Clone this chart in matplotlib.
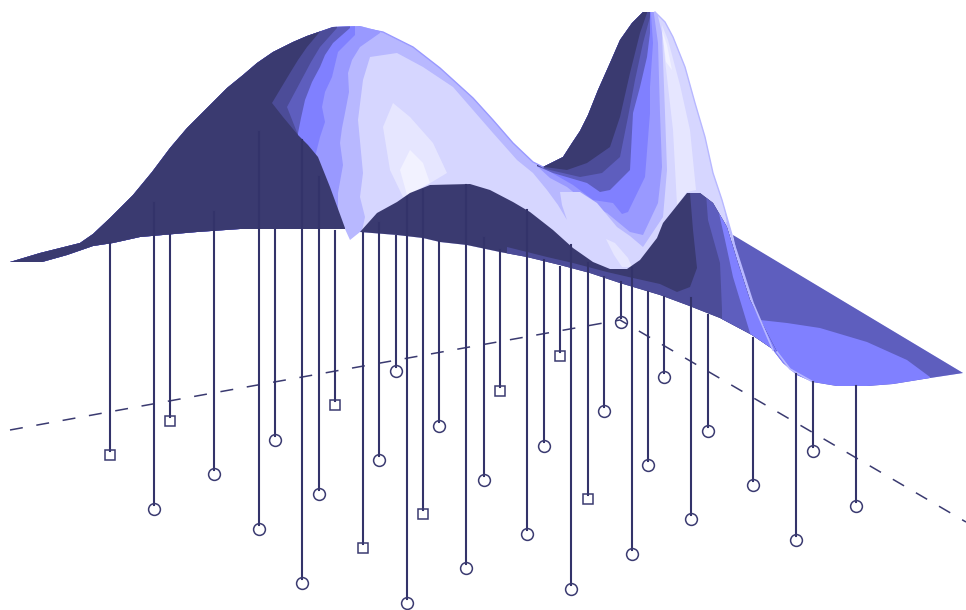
import matplotlib
matplotlib.use('Agg')
import matplotlib.pyplot as plt
from matplotlib.patches import Polygon

# surface outlines (x, y in image pixels)
silhouette = [(10, 262), (40, 253), (80, 243), (93, 234), (110, 218), (133, 195), (152, 172), (170, 148), (187, 128),
              (207, 108), (227, 88), (243, 75), (257, 63), (273, 52), (293, 42), (307, 36), (333, 27), (360, 26),
              (383, 32), (413, 47), (440, 68), (473, 98), (493, 120), (513, 143), (533, 162), (543, 167), (563, 157),
              (572, 143), (580, 131), (588, 115), (598, 90), (610, 63), (620, 40), (632, 23), (643, 12), (655, 12),
              (665, 22), (673, 37), (685, 67), (695, 103), (705, 137), (713, 173), (722, 200), (732, 235),
              (963, 373), (930, 378), (867, 386), (813, 382), (777, 352), (752, 335), (720, 318), (687, 305),
              (660, 295), (620, 283), (590, 273), (560, 265), (527, 257), (500, 252), (467, 245), (440, 242),
              (423, 238), (397, 235), (360, 232), (350, 240), (345, 229), (300, 229), (240, 229), (197, 232),
              (140, 237), (113, 243), (93, 246), (67, 255), (42, 262)]

hump_l5 = [(380, 0), (380, 33), (360, 47), (352, 60), (348, 73), (349, 92), (345, 113), (342, 128), (340, 143),
           (343, 165), (338, 193), (338, 300), (0, 300), (0, 0)]
hump_l4 = [(355, 0), (355, 35), (338, 52), (332, 77), (325, 92), (322, 107), (325, 122), (320, 137), (315, 157),
           (320, 300), (0, 300), (0, 0)]
hump_l3 = [(350, 0), (350, 28), (333, 43), (325, 55), (320, 67), (312, 82), (305, 100), (301, 118), (298, 133),
           (298, 300), (0, 300), (0, 0)]
hump_l2 = [(337, 0), (337, 28), (320, 47), (311, 62), (303, 77), (295, 92), (287, 107), (298, 135), (298, 300),
           (0, 300), (0, 0)]
hump_l1 = [(323, 0), (323, 28), (307, 47), (298, 60), (290, 73), (272, 103), (283, 117), (298, 135), (308, 145),
           (318, 157), (330, 187), (345, 228), (345, 300), (0, 300), (0, 0)]

peak_l5 = [(537, 0), (537, 166), (550, 178), (567, 187), (587, 203), (607, 213), (630, 232), (643, 235), (658, 203),
           (662, 167), (660, 113), (658, 43), (652, 0)]
peak_l4 = [(537, 0), (537, 166), (547, 170), (573, 185), (593, 200), (613, 203), (622, 214), (628, 212), (645, 177),
           (650, 113), (650, 87), (653, 43), (650, 0)]
peak_l3 = [(537, 0), (537, 166), (553, 173), (570, 178), (587, 183), (600, 192), (610, 190), (630, 170), (633, 113),
           (640, 87), (647, 57), (650, 33), (650, 0)]
peak_l2 = [(537, 0), (537, 166), (550, 170), (580, 177), (602, 173), (620, 157), (628, 117), (635, 80), (643, 43),
           (650, 17), (650, 0)]
peak_l1 = [(537, 0), (537, 166), (567, 170), (587, 163), (610, 147), (620, 117), (630, 73), (640, 33), (647, 13),
           (647, 0)]

light_main = [(397, 53), (370, 57), (363, 80), (358, 120), (363, 173), (360, 197), (365, 217), (360, 240), (620, 285),
              (735, 240), (727, 223), (718, 173), (708, 137), (698, 103), (689, 70), (675, 33), (657, 12), (662, 33),
              (665, 113), (667, 170), (663, 217), (643, 247), (630, 236), (617, 227), (597, 203), (580, 192),
              (560, 192), (562, 205), (567, 220), (558, 205), (547, 190), (533, 173), (517, 160), (493, 133),
              (473, 110), (453, 87), (423, 67)]
light_island = [(393, 103), (410, 117), (433, 143), (447, 173), (407, 197), (403, 197), (390, 170), (383, 127)]
lightest_island = [(410, 150), (423, 163), (430, 183), (407, 195), (400, 170)]
valley_island = [(606, 239), (615, 243), (628, 258), (632, 267), (622, 267), (614, 255)]
peak_island = [(662, 25), (668, 40), (680, 85), (690, 130), (696, 190), (687, 192), (677, 205), (673, 130), (665, 60)]
peak_tip = [(662, 30), (667, 45), (672, 70), (666, 62)]

near_hump = [(360, 232), (377, 213), (397, 202), (410, 193), (430, 185), (470, 184), (490, 190), (513, 202),
             (530, 212), (553, 230), (573, 248), (593, 262), (610, 269), (627, 269), (640, 260), (657, 238),
             (663, 223), (687, 193), (700, 193), (713, 203), (727, 227), (737, 260), (750, 300), (777, 352),
             (752, 335), (720, 318), (687, 305), (660, 295), (620, 283), (590, 273), (560, 265), (527, 257),
             (500, 252), (467, 245), (440, 242), (423, 238), (397, 235)]
near_l2 = [(507, 247), (527, 252), (547, 257), (573, 263), (607, 272), (633, 278), (660, 284), (677, 292), (690, 287),
           (697, 268), (693, 230), (690, 193), (690, 180), (800, 180), (800, 400), (505, 400)]
near_l3 = [(705, 180), (708, 220), (720, 263), (722, 310), (722, 400), (800, 400), (800, 180)]
near_l4 = [(716, 200), (725, 240), (733, 277), (750, 333), (777, 400), (800, 400), (800, 180)]

wing = [(733, 235), (963, 373), (930, 378), (893, 384), (867, 386), (837, 386), (813, 382), (797, 375), (783, 363),
        (773, 350), (753, 303), (737, 253)]
wing_low = [(760, 320), (787, 323), (820, 328), (867, 342), (907, 360), (930, 377), (930, 400), (760, 400)]
ridge = [(727, 223), (737, 253), (753, 303), (773, 350)]
wing_edge = [(777, 352), (790, 369), (813, 382)]
hump_edge = [(372, 30), (383, 32), (413, 47), (440, 68), (473, 98), (493, 120), (513, 143), (533, 162), (543, 167)]
peak_edge = [(655, 12), (665, 22), (673, 37), (685, 67), (695, 103), (705, 137), (713, 173), (722, 200), (732, 235)]

# dashed base line
base_x = [10, 213, 620, 966]
base_y = [430, 393, 320, 522]

# stems
stem_x = [110, 154, 170, 214, 259, 275, 302, 319, 335, 363, 379, 396, 407, 423, 439, 466, 484, 500, 527, 544, 560,
          571, 588, 604, 621, 632, 648, 664, 691, 708, 753, 796, 813, 856]
stem_top = [243, 203, 235, 212, 132, 230, 140, 177, 231, 233, 223, 236, 197, 190, 242, 185, 238, 250, 210, 260, 267,
            245, 263, 277, 282, 268, 292, 297, 298, 315, 338, 374, 382, 386]
marker_y = [455, 509, 421, 474, 529, 440, 583, 494, 405, 548, 460, 371, 603, 514, 426, 568, 480, 391, 534, 446, 356,
            589, 499, 411, 322, 554, 465, 377, 519, 431, 485, 540, 451, 506]
marker_kind = ['s', 'o', 's', 'o', 'o', 'o', 'o', 'o', 's', 's', 'o', 'o', 'o', 's', 'o', 'o', 'o', 's', 'o', 'o',
               's', 'o', 's', 'o', 'o', 'o', 'o', 'o', 'o', 'o', 'o', 'o', 'o', 'o']

dark = '#3a3a70'
c2 = '#4c4c98'
c3 = '#5e5ebe'
c4 = '#8080ff'
c5 = '#9999ff'
c6 = '#b8b8ff'
c7 = '#d6d6ff'
c8 = '#e6e6ff'
c9 = '#f2f2ff'

fig = plt.figure(figsize=(9.66, 6.10), dpi=100)
ax = fig.add_axes([0, 0, 1, 1])
ax.set_xlim(0, 966)
ax.set_ylim(610, 0)
ax.axis('off')

ax.plot(base_x, base_y, color=dark, lw=1.1, dashes=(8.5, 9), zorder=1)


def fill(points, color, clip=None, z=2):
    patch = Polygon(points, closed=True, facecolor=color, edgecolor='none', zorder=z)
    ax.add_patch(patch)
    if clip is not None:
        patch.set_clip_path(clip)
    return patch


body = fill(silhouette, c6)
for pts, col in [(hump_l5, c5), (hump_l4, c4), (hump_l3, c3), (hump_l2, c2), (hump_l1, dark),
                 (peak_l5, c5), (peak_l4, c4), (peak_l3, c3), (peak_l2, c2), (peak_l1, dark)]:
    fill(pts, col, clip=body)
fill(light_main, c7, clip=body)
fill(light_island, c8)
fill(lightest_island, c9)
fill(valley_island, c8)
fill(peak_island, c8, clip=body)
fill(peak_tip, c9, clip=body)

fill(wing, c3, z=3)
wing_patch = Polygon(wing, closed=True, facecolor='none', edgecolor='none', zorder=3)
ax.add_patch(wing_patch)
fill(wing_low, c4, clip=wing_patch, z=3)

near = fill(near_hump, dark, z=4)
fill(near_l2, c2, clip=near, z=4)
fill(near_l3, c3, clip=near, z=4)
fill(near_l4, c4, clip=near, z=4)

ax.plot(*zip(*ridge), color=c6, lw=1.2, zorder=5)
ax.plot(*zip(*wing_edge), color=c6, lw=1.2, zorder=5)
ax.plot(*zip(*hump_edge), color=c5, lw=1.0, zorder=3)
ax.plot(*zip(*peak_edge), color=c6, lw=1.0, zorder=3)

for x, top, my, kind in zip(stem_x, stem_top, marker_y, marker_kind):
    ax.plot([x, x], [top, my - 4], color='#33336a', lw=1.5, zorder=6)
    ax.plot([x], [my], marker=kind, ms=8.5 if kind == 'o' else 7.5, mfc='none', mec=dark, mew=1.1, zorder=6)

fig.savefig('out.png', dpi=100)
